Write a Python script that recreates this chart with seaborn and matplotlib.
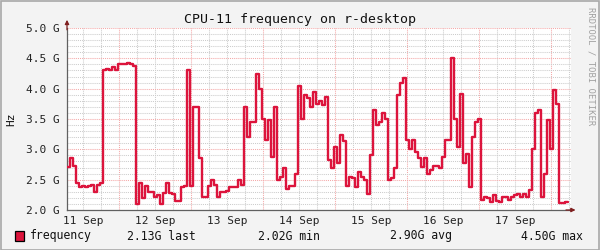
import numpy as np
import pandas as pd
import matplotlib
matplotlib.use("Agg")
import matplotlib.pyplot as plt
import matplotlib.dates as mdates
import matplotlib.ticker as mticker
from matplotlib.patches import Rectangle
import seaborn as sns

# ---------------- data (GHz, hourly samples from 11 Sep 06:40) ----------------
freq_ghz = [
    2.71, 2.85, 2.72, 2.45, 2.38, 2.40, 2.38, 2.40, 2.42, 2.30, 2.42, 2.45, 4.30, 4.33,
    4.30, 4.35, 4.30, 4.40, 4.41, 4.40, 4.42, 4.40, 4.38, 2.10, 2.45, 2.20, 2.40, 2.30,
    2.30, 2.22, 2.25, 2.10, 2.28, 2.45, 2.28, 2.27, 2.15, 2.15, 2.38, 2.40, 4.30, 2.40,
    3.70, 3.70, 2.85, 2.22, 2.22, 2.40, 2.50, 2.42, 2.22, 2.30, 2.30, 2.32, 2.38, 2.38,
    2.38, 2.50, 2.41, 3.70, 3.20, 3.45, 3.45, 4.25, 4.00, 3.50, 3.15, 3.48, 2.88, 3.70,
    2.50, 2.55, 2.70, 2.35, 2.40, 2.40, 2.60, 4.05, 3.50, 3.90, 3.85, 3.70, 3.95, 3.75,
    3.79, 3.73, 3.87, 2.82, 2.69, 3.04, 2.77, 3.24, 3.13, 2.40, 2.55, 2.52, 2.38, 2.63,
    2.55, 2.50, 2.27, 2.90, 3.65, 3.40, 3.45, 3.60, 3.50, 2.50, 2.52, 2.70, 3.90, 4.10,
    4.17, 3.15, 3.00, 3.15, 2.95, 2.85, 2.71, 2.85, 2.60, 2.66, 2.72, 2.73, 2.70, 2.88,
    3.15, 3.15, 4.50, 3.50, 3.04, 3.92, 2.77, 2.93, 2.38, 3.21, 3.45, 3.50, 2.16, 2.22,
    2.20, 2.14, 2.25, 2.15, 2.14, 2.22, 2.22, 2.17, 2.22, 2.25, 2.27, 2.22, 2.27, 2.22,
    2.33, 3.00, 3.60, 3.65, 2.22, 2.60, 3.48, 3.00, 3.98, 3.75, 2.11, 2.11, 2.13, 2.13,
]
start_time = "2023-09-11 06:40"
window_hours = 168
series_name = "frequency"
stat_labels = ["2.13G last", "2.02G min", "2.90G avg", "4.50G max"]
title_text = "CPU-11 frequency on r-desktop"
y_label = "Hz"
watermark = "RRDTOOL / TOBI OETIKER"

# ---------------- styling ----------------
LINE_COLOR = "#DC143C"
CANVAS = "#F3F3F3"
MAJOR_GRID = "#F4A8A8"
MINOR_GRID = "#CCCCCC"
AXIS_COLOR = "#606060"
ARROW_COLOR = "#7F1F1F"

sns.set_theme(style="white")
plt.rcParams["font.family"] = ["DejaVu Sans Mono", "DejaVu Sans"]

W, H = 600, 250
fig = plt.figure(figsize=(W / 100, H / 100), dpi=100, facecolor=CANVAS)

def fx(px):
    return px / W

def fy(py):
    return 1 - py / H

ax = fig.add_axes([fx(67), fy(210), fx(571) - fx(67), fy(28) - fy(210)])
ax.set_facecolor("white")

start = pd.Timestamp(start_time)
times = pd.date_range(start, periods=len(freq_ghz), freq="h")
df = pd.DataFrame({"time": times, "freq": freq_ghz})

sns.lineplot(data=df, x="time", y="freq", ax=ax, color=LINE_COLOR,
             linewidth=1.7, drawstyle="steps-post", zorder=3, legend=False)

ax.set_xlim(start, start + pd.Timedelta(hours=window_hours))
ax.set_ylim(2.0, 5.0)

# x ticks: midnight major grid, 6h minor grid, labels at noon
ax.xaxis.set_major_locator(mdates.HourLocator(byhour=[0]))
ax.xaxis.set_minor_locator(mdates.HourLocator(byhour=[6, 12, 18]))
ax.xaxis.set_major_formatter(mticker.NullFormatter())

def noon_label(v, pos):
    d = mdates.num2date(v)
    return d.strftime("%d %b") if d.hour == 12 else ""

ax.xaxis.set_minor_formatter(mticker.FuncFormatter(noon_label))

ax.yaxis.set_major_locator(mticker.MultipleLocator(0.5))
ax.yaxis.set_minor_locator(mticker.MultipleLocator(0.1))
ax.yaxis.set_major_formatter(mticker.FuncFormatter(lambda v, p: f"{v:.1f} G"))

dots = (0, (1, 1))
ax.grid(which="major", color=MAJOR_GRID, linestyle=dots, linewidth=0.75, zorder=1)
ax.grid(which="minor", color=MINOR_GRID, linestyle=dots, linewidth=0.75, zorder=0)
ax.set_axisbelow(True)

ax.tick_params(axis="both", which="major", length=2.5, width=0.8, color=AXIS_COLOR,
               labelsize=8, labelcolor="#222222", direction="out")
ax.tick_params(axis="y", which="major", pad=3)
ax.tick_params(axis="x", which="major", length=2.5)
ax.tick_params(axis="x", which="minor", length=0, pad=4, labelsize=8, labelcolor="#222222")
ax.tick_params(axis="y", which="minor", length=0)

for s in ["top", "right"]:
    ax.spines[s].set_visible(False)
for s in ["left", "bottom"]:
    ax.spines[s].set_color(AXIS_COLOR)
    ax.spines[s].set_linewidth(0.9)

ax.set_xlabel("")
ax.set_ylabel("")

# axis arrows
ax.annotate("", xy=(0, 1.045), xytext=(0, 0.99), xycoords="axes fraction",
            arrowprops=dict(arrowstyle="-|>", color=ARROW_COLOR, lw=0.9,
                            mutation_scale=6, shrinkA=0, shrinkB=0),
            annotation_clip=False)
ax.annotate("", xy=(1.009, 0), xytext=(0.99, 0), xycoords="axes fraction",
            arrowprops=dict(arrowstyle="-|>", color=ARROW_COLOR, lw=0.9,
                            mutation_scale=6, shrinkA=0, shrinkB=0),
            annotation_clip=False)

# title, y label, watermark
fig.text(0.5, fy(19), title_text, ha="center", va="center", fontsize=9.5, color="#111111")
fig.text(fx(11), fy(119), y_label, ha="center", va="center", rotation=90,
         fontsize=8, color="#111111")
fig.text(fx(591), fy(66), watermark, ha="center", va="center", rotation=-90,
         fontsize=6.4, color="#A0A0A0")

# legend row
fig.patches.append(Rectangle((fx(15), fy(241)), fx(9), fy(231) - fy(241),
                             transform=fig.transFigure, facecolor=LINE_COLOR,
                             edgecolor="black", linewidth=0.9, figure=fig))
fig.text(fx(30), fy(236), series_name, ha="left", va="center", fontsize=8.3, color="#111111")
stat_x = [127, 258, 390, 521]
for xpx, lab in zip(stat_x, stat_labels):
    fig.text(fx(xpx), fy(236), lab, ha="left", va="center", fontsize=8.3, color="#111111")

# outer border
fig.patches.append(Rectangle((0.5 / W, 0.5 / H), 1 - 1.5 / W, 1 - 1.5 / H,
                             transform=fig.transFigure, facecolor="none",
                             edgecolor="#A8A8A8", linewidth=1.2, figure=fig))

fig.savefig("out.png", dpi=100, facecolor=fig.get_facecolor())
